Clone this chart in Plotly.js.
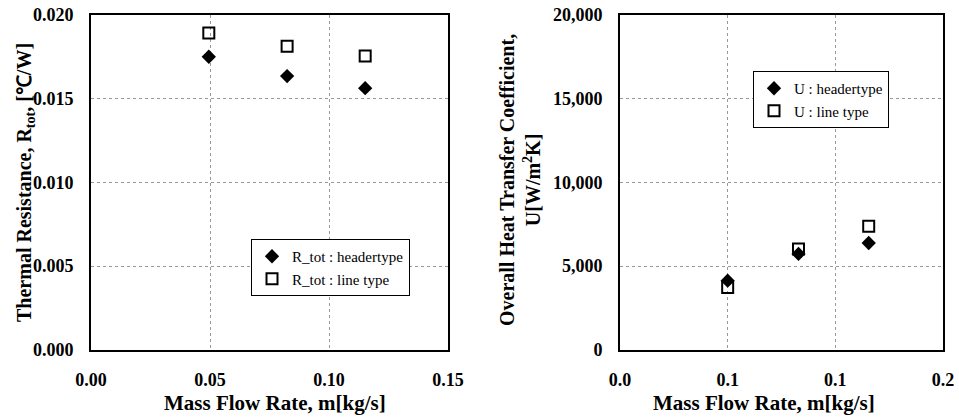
<!DOCTYPE html>
<html>
<head>
<meta charset="utf-8">
<script src="https://cdn.plot.ly/plotly-3.0.1.min.js"></script>
<style>html,body{margin:0;padding:0;background:#fff;}#chart{width:959px;height:419px;}</style>
</head>
<body>
<div id="chart"></div>
<script>
// ---- data ----
const massFlowR = [0.0495, 0.0824, 0.1152];
const rTotHeader = [0.01748, 0.01633, 0.01561];
const rTotLine = [0.0189, 0.0181, 0.01752];

const massFlowU = [0.0500, 0.0829, 0.1155];
const uHeader = [4130, 5730, 6380];
const uLine = [3730, 6020, 7370];

const leftXTickVals = [0, 0.05, 0.10, 0.15];
const leftXTickText = ['0.00', '0.05', '0.10', '0.15'];
const leftYTickVals = [0, 0.005, 0.010, 0.015, 0.020];
const leftYTickText = ['0.000', '0.005', '0.010', '0.015', '0.020'];
const rightXTickVals = [0, 0.05, 0.10, 0.15];
const rightXTickText = ['0.0', '0.1', '0.1', '0.2'];
const rightYTickVals = [0, 5000, 10000, 15000, 20000];
const rightYTickText = ['0', '5,000', '10,000', '15,000', '20,000'];

const serif = '"Liberation Serif", "Times New Roman", serif';

const diamond = {symbol: 'diamond', size: 11, color: '#000'};
const square = {symbol: 'square-open', size: 11, color: '#000', line: {width: 2, color: '#000'}};

const traces = [
  {x: massFlowR, y: rTotHeader, type: 'scatter', mode: 'markers', name: 'R_tot : headertype', marker: diamond, xaxis: 'x', yaxis: 'y', legend: 'legend'},
  {x: massFlowR, y: rTotLine, type: 'scatter', mode: 'markers', name: 'R_tot : line type', marker: square, xaxis: 'x', yaxis: 'y', legend: 'legend'},
  {x: massFlowU, y: uHeader, type: 'scatter', mode: 'markers', name: 'U : headertype', marker: diamond, xaxis: 'x2', yaxis: 'y2', legend: 'legend2'},
  {x: massFlowU, y: uLine, type: 'scatter', mode: 'markers', name: 'U : line type', marker: square, xaxis: 'x2', yaxis: 'y2', legend: 'legend2'}
];

const tickFont = {family: serif, size: 18, color: '#000', weight: 'bold'};
function axisBase(extra) {
  return Object.assign({
    showline: true, mirror: true, linecolor: '#000', linewidth: 2,
    showgrid: true, gridcolor: '#999', griddash: 'dot', gridwidth: 1,
    zeroline: false, ticks: '', tickfont: tickFont, tickmode: 'array',
    ticklabelstandoff: 12, fixedrange: true
  }, extra);
}

const yDom = [1 - 350/419, 1 - 14.5/419];
const titleFontY = {family: serif, size: 20, color: '#000', weight: 'bold'};
const titleFontX = {family: serif, size: 21, color: '#000', weight: 'bold'};

const layout = {
  width: 959, height: 419,
  margin: {l: 0, r: 0, t: 0, b: 0},
  paper_bgcolor: '#fff', plot_bgcolor: '#fff',
  font: {family: serif, color: '#000'},
  xaxis: axisBase({domain: [91/959, 448/959], range: [0, 0.15], tickvals: leftXTickVals, ticktext: leftXTickText, anchor: 'y'}),
  yaxis: axisBase({domain: yDom, range: [0, 0.02], tickvals: leftYTickVals, ticktext: leftYTickText, anchor: 'x'}),
  xaxis2: axisBase({domain: [620/959, 943/959], range: [0, 0.15], tickvals: rightXTickVals, ticktext: rightXTickText, anchor: 'y2'}),
  yaxis2: axisBase({domain: yDom, range: [0, 20000], tickvals: rightYTickVals, ticktext: rightYTickText, anchor: 'x2'}),
  legend: {x: 251/959, y: 1 - 239/419, xanchor: 'left', yanchor: 'top', bgcolor: '#fff', bordercolor: '#000', borderwidth: 1, font: {family: serif, size: 15, color: '#000'}, itemwidth: 30, tracegroupgap: 0},
  legend2: {x: 753/959, y: 1 - 71/419, xanchor: 'left', yanchor: 'top', bgcolor: '#fff', bordercolor: '#000', borderwidth: 1, font: {family: serif, size: 15, color: '#000'}, itemwidth: 30, tracegroupgap: 0},
  showlegend: true,
  annotations: [
    {text: 'Thermal Resistance, R<sub>tot</sub>, [℃/W]', xref: 'paper', yref: 'paper', x: 25/959, y: 1 - 183/419, xanchor: 'center', yanchor: 'middle', textangle: -90, showarrow: false, font: titleFontY},
    {text: 'Mass Flow Rate, m[kg/s]', xref: 'paper', yref: 'paper', x: 275/959, y: 1 - 403/419, xanchor: 'center', yanchor: 'middle', showarrow: false, font: titleFontX},
    {text: 'Overall Heat Transfer Coefficient,<br>U[W/m<sup>2</sup>K]', xref: 'paper', yref: 'paper', x: 520/959, y: 1 - 180/419, xanchor: 'center', yanchor: 'middle', textangle: -90, showarrow: false, font: titleFontY},
    {text: 'Mass Flow Rate, m[kg/s]', xref: 'paper', yref: 'paper', x: 764/959, y: 1 - 403/419, xanchor: 'center', yanchor: 'middle', showarrow: false, font: titleFontX}
  ]
};

Plotly.newPlot('chart', traces, layout, {displayModeBar: false, staticPlot: true});
</script>
</body>
</html>
